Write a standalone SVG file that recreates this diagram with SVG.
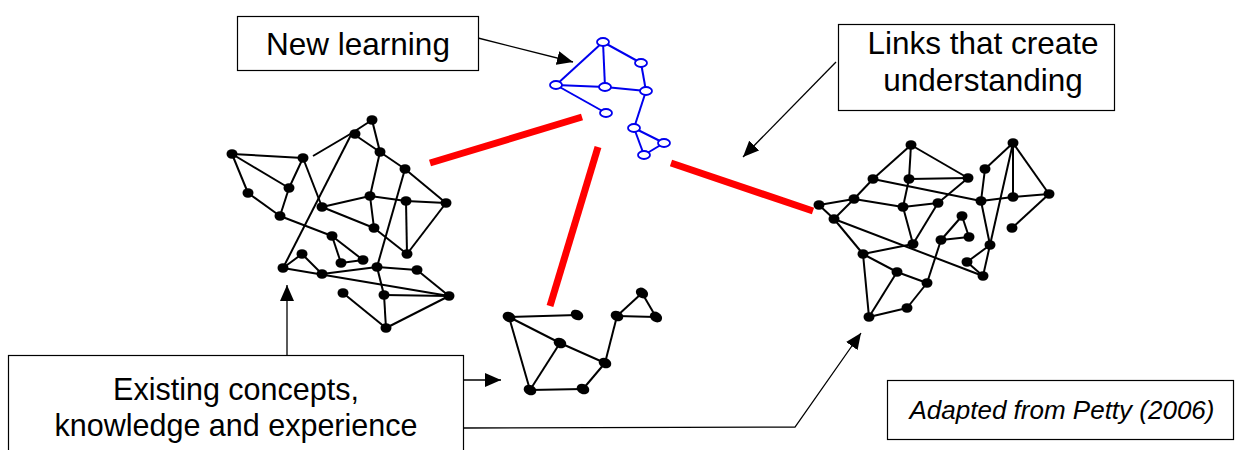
<svg xmlns="http://www.w3.org/2000/svg" width="1240" height="450" viewBox="0 0 1240 450">
<style>
.bx{fill:#fff;stroke:#000;stroke-width:1.2}
.t{font-family:"Liberation Sans",Arial,sans-serif;font-size:31.5px;fill:#000;text-anchor:middle}
.t2{font-family:"Liberation Sans",Arial,sans-serif;font-size:30.5px;fill:#000;text-anchor:middle}
.ti{font-family:"Liberation Sans",Arial,sans-serif;font-size:26px;font-style:italic;fill:#000;text-anchor:middle}
.e{stroke:#000;stroke-width:2;fill:none}
.eb{stroke:#0000ee;stroke-width:2;fill:none}
.n{fill:#000}
.nb{fill:#fff;stroke:#0000ee;stroke-width:1.8}
.red{stroke:#ff0000;stroke-width:7;fill:none}
.ar{stroke:#000;stroke-width:1.3;fill:none;marker-end:url(#ah)}
</style>
<defs>
<marker id="ah" markerUnits="userSpaceOnUse" markerWidth="18" markerHeight="14" refX="16" refY="7" orient="auto">
<path d="M0,0 L16,7 L0,14 Z" fill="#000"/>
</marker>
</defs>
<rect width="1240" height="450" fill="#fff"/>

<g id="connectors">
<line class="ar" x1="478" y1="38" x2="573" y2="62"/>
<line class="ar" x1="836" y1="62" x2="743" y2="157"/>
<line class="ar" x1="287" y1="355" x2="287" y2="285"/>
<line class="ar" x1="455" y1="380" x2="501" y2="380"/>
<polyline class="ar" points="463,428 795,427 861,333"/>
<line class="red" x1="430" y1="163" x2="582" y2="117"/>
<line class="red" x1="598" y1="147" x2="550" y2="306"/>
<line class="red" x1="671" y1="163" x2="813" y2="211"/>
</g>

<g id="left-network">
<g class="e">
<line x1="232" y1="154" x2="303" y2="158"/>
<line x1="232" y1="154" x2="289" y2="188"/>
<line x1="232" y1="154" x2="248" y2="193"/>
<line x1="248" y1="193" x2="280" y2="216"/>
<line x1="289" y1="188" x2="303" y2="158"/>
<line x1="289" y1="188" x2="280" y2="216"/>
<line x1="303" y1="158" x2="322" y2="207"/>
<line x1="313" y1="156" x2="352" y2="133"/>
<line x1="352" y1="133" x2="372" y2="120"/>
<line x1="372" y1="120" x2="380" y2="152"/>
<line x1="352" y1="133" x2="380" y2="152"/>
<line x1="380" y1="152" x2="405" y2="169"/>
<line x1="405" y1="169" x2="446" y2="203"/>
<line x1="352" y1="133" x2="283" y2="268"/>
<line x1="380" y1="152" x2="370" y2="196"/>
<line x1="405" y1="169" x2="377" y2="267"/>
<line x1="370" y1="196" x2="406" y2="201"/>
<line x1="406" y1="201" x2="446" y2="203"/>
<line x1="406" y1="201" x2="407" y2="254"/>
<line x1="446" y1="203" x2="407" y2="254"/>
<line x1="370" y1="196" x2="374" y2="228"/>
<line x1="322" y1="207" x2="370" y2="196"/>
<line x1="322" y1="207" x2="374" y2="228"/>
<line x1="374" y1="228" x2="407" y2="254"/>
<line x1="280" y1="216" x2="332" y2="236"/>
<line x1="332" y1="236" x2="341" y2="263"/>
<line x1="332" y1="236" x2="363" y2="260"/>
<line x1="341" y1="263" x2="363" y2="260"/>
<line x1="283" y1="268" x2="302" y2="254"/>
<line x1="302" y1="254" x2="322" y2="274"/>
<line x1="283" y1="268" x2="449" y2="296"/>
<line x1="322" y1="274" x2="377" y2="267"/>
<line x1="377" y1="267" x2="417" y2="270"/>
<line x1="417" y1="270" x2="449" y2="296"/>
<line x1="377" y1="267" x2="384" y2="295"/>
<line x1="384" y1="295" x2="449" y2="296"/>
<line x1="384" y1="295" x2="386" y2="328"/>
<line x1="386" y1="328" x2="449" y2="296"/>
<line x1="343" y1="293" x2="386" y2="328"/>
</g>
<g class="n">
<ellipse cx="232" cy="154" rx="5.5" ry="4.8"/>
<ellipse cx="303" cy="158" rx="5.5" ry="4.8"/>
<ellipse cx="289" cy="188" rx="5.5" ry="4.8"/>
<ellipse cx="248" cy="193" rx="5.5" ry="4.8"/>
<ellipse cx="280" cy="216" rx="5.5" ry="4.8"/>
<ellipse cx="322" cy="207" rx="5.5" ry="4.8"/>
<ellipse cx="355" cy="134" rx="5.5" ry="4.8"/>
<ellipse cx="372" cy="120" rx="5.5" ry="4.8"/>
<ellipse cx="380" cy="152" rx="5.5" ry="4.8"/>
<ellipse cx="405" cy="169" rx="5.5" ry="4.8"/>
<ellipse cx="370" cy="196" rx="5.5" ry="4.8"/>
<ellipse cx="406" cy="201" rx="5.5" ry="4.8"/>
<ellipse cx="446" cy="203" rx="5.5" ry="4.8"/>
<ellipse cx="374" cy="228" rx="5.5" ry="4.8"/>
<ellipse cx="407" cy="254" rx="5.5" ry="4.8"/>
<ellipse cx="332" cy="236" rx="5.5" ry="4.8"/>
<ellipse cx="341" cy="263" rx="5.5" ry="4.8"/>
<ellipse cx="363" cy="260" rx="5.5" ry="4.8"/>
<ellipse cx="283" cy="268" rx="5.5" ry="4.8"/>
<ellipse cx="302" cy="254" rx="5.5" ry="4.8"/>
<ellipse cx="322" cy="274" rx="5.5" ry="4.8"/>
<ellipse cx="377" cy="267" rx="5.5" ry="4.8"/>
<ellipse cx="417" cy="270" rx="5.5" ry="4.8"/>
<ellipse cx="449" cy="296" rx="5.5" ry="4.8"/>
<ellipse cx="384" cy="295" rx="5.5" ry="4.8"/>
<ellipse cx="386" cy="328" rx="5.5" ry="4.8"/>
<ellipse cx="343" cy="293" rx="5.5" ry="4.8"/>
</g>
</g>

<g id="bottom-network">
<g class="e">
<line x1="509" y1="317" x2="577" y2="315"/>
<line x1="509" y1="317" x2="560" y2="343"/>
<line x1="509" y1="317" x2="530" y2="390"/>
<line x1="560" y1="343" x2="530" y2="390"/>
<line x1="560" y1="343" x2="605" y2="363"/>
<line x1="605" y1="363" x2="617" y2="316"/>
<line x1="605" y1="363" x2="583" y2="389"/>
<line x1="583" y1="389" x2="530" y2="390"/>
<line x1="617" y1="316" x2="642" y2="293"/>
<line x1="617" y1="316" x2="656" y2="317"/>
<line x1="642" y1="293" x2="656" y2="317"/>
</g>
<g class="n">
<ellipse cx="509" cy="317" rx="6.5" ry="5" transform="rotate(20 509 317)"/>
<ellipse cx="577" cy="315" rx="6.5" ry="5" transform="rotate(25 577 315)"/>
<ellipse cx="560" cy="343" rx="6.5" ry="5" transform="rotate(20 560 343)"/>
<ellipse cx="605" cy="363" rx="6.5" ry="5" transform="rotate(20 605 363)"/>
<ellipse cx="617" cy="316" rx="6.5" ry="5" transform="rotate(20 617 316)"/>
<ellipse cx="642" cy="293" rx="6.5" ry="5" transform="rotate(30 642 293)"/>
<ellipse cx="656" cy="317" rx="6.5" ry="5" transform="rotate(30 656 317)"/>
<ellipse cx="530" cy="390" rx="6.5" ry="5" transform="rotate(20 530 390)"/>
<ellipse cx="583" cy="389" rx="6.5" ry="5" transform="rotate(20 583 389)"/>
</g>
</g>

<g id="blue-network">
<g class="eb">
<line x1="603" y1="42" x2="556" y2="85"/>
<line x1="603" y1="42" x2="605" y2="87"/>
<line x1="603" y1="42" x2="641" y2="63"/>
<line x1="641" y1="63" x2="646" y2="91"/>
<line x1="556" y1="85" x2="605" y2="87"/>
<line x1="605" y1="87" x2="646" y2="91"/>
<line x1="556" y1="85" x2="606" y2="113"/>
<line x1="646" y1="91" x2="634" y2="128"/>
<line x1="634" y1="128" x2="664" y2="143"/>
<line x1="634" y1="128" x2="644" y2="155"/>
<line x1="644" y1="155" x2="664" y2="143"/>
</g>
<g class="nb">
<ellipse cx="603" cy="42" rx="6" ry="4"/>
<ellipse cx="641" cy="63" rx="6" ry="4"/>
<ellipse cx="556" cy="85" rx="6" ry="4"/>
<ellipse cx="605" cy="87" rx="6" ry="4"/>
<ellipse cx="646" cy="91" rx="6" ry="4"/>
<ellipse cx="606" cy="113" rx="6" ry="4"/>
<ellipse cx="634" cy="128" rx="6" ry="4"/>
<ellipse cx="664" cy="143" rx="6" ry="4"/>
<ellipse cx="644" cy="155" rx="6" ry="4"/>
</g>
</g>

<g id="right-network">
<g class="e">
<line x1="819" y1="205" x2="834" y2="219"/>
<line x1="819" y1="205" x2="854" y2="199"/>
<line x1="834" y1="219" x2="854" y2="199"/>
<line x1="854" y1="199" x2="873" y2="179"/>
<line x1="873" y1="179" x2="911" y2="145"/>
<line x1="911" y1="145" x2="909" y2="179"/>
<line x1="911" y1="145" x2="968" y2="178"/>
<line x1="909" y1="179" x2="968" y2="178"/>
<line x1="873" y1="179" x2="981" y2="201"/>
<line x1="854" y1="199" x2="903" y2="207"/>
<line x1="903" y1="207" x2="938" y2="203"/>
<line x1="909" y1="179" x2="903" y2="207"/>
<line x1="903" y1="207" x2="913" y2="244"/>
<line x1="938" y1="203" x2="968" y2="178"/>
<line x1="938" y1="203" x2="913" y2="244"/>
<line x1="834" y1="219" x2="983" y2="276"/>
<line x1="834" y1="219" x2="863" y2="254"/>
<line x1="863" y1="254" x2="913" y2="244"/>
<line x1="863" y1="254" x2="869" y2="317"/>
<line x1="863" y1="254" x2="897" y2="272"/>
<line x1="897" y1="272" x2="927" y2="283"/>
<line x1="897" y1="272" x2="869" y2="317"/>
<line x1="927" y1="283" x2="941" y2="240"/>
<line x1="927" y1="283" x2="907" y2="308"/>
<line x1="907" y1="308" x2="869" y2="317"/>
<line x1="941" y1="240" x2="962" y2="216"/>
<line x1="941" y1="240" x2="969" y2="237"/>
<line x1="962" y1="216" x2="969" y2="237"/>
<line x1="985" y1="169" x2="1013" y2="143"/>
<line x1="985" y1="169" x2="981" y2="201"/>
<line x1="981" y1="201" x2="1013" y2="197"/>
<line x1="1013" y1="143" x2="1013" y2="197"/>
<line x1="1013" y1="143" x2="1049" y2="194"/>
<line x1="1013" y1="197" x2="1049" y2="194"/>
<line x1="1013" y1="143" x2="990" y2="245"/>
<line x1="981" y1="201" x2="990" y2="245"/>
<line x1="1049" y1="194" x2="1012" y2="228"/>
<line x1="990" y1="245" x2="967" y2="262"/>
<line x1="967" y1="262" x2="983" y2="276"/>
<line x1="990" y1="245" x2="983" y2="276"/>
</g>
<g class="n">
<ellipse cx="819" cy="205" rx="5.5" ry="4.8"/>
<ellipse cx="834" cy="219" rx="5.5" ry="4.8"/>
<ellipse cx="854" cy="199" rx="5.5" ry="4.8"/>
<ellipse cx="873" cy="179" rx="5.5" ry="4.8"/>
<ellipse cx="911" cy="145" rx="5.5" ry="4.8"/>
<ellipse cx="909" cy="179" rx="5.5" ry="4.8"/>
<ellipse cx="903" cy="207" rx="5.5" ry="4.8"/>
<ellipse cx="938" cy="203" rx="5.5" ry="4.8"/>
<ellipse cx="968" cy="178" rx="5.5" ry="4.8"/>
<ellipse cx="985" cy="169" rx="5.5" ry="4.8"/>
<ellipse cx="981" cy="201" rx="5.5" ry="4.8"/>
<ellipse cx="1013" cy="143" rx="5.5" ry="4.8"/>
<ellipse cx="1013" cy="197" rx="5.5" ry="4.8"/>
<ellipse cx="1049" cy="194" rx="5.5" ry="4.8"/>
<ellipse cx="1012" cy="228" rx="5.5" ry="4.8"/>
<ellipse cx="962" cy="216" rx="5.5" ry="4.8"/>
<ellipse cx="969" cy="237" rx="5.5" ry="4.8"/>
<ellipse cx="941" cy="240" rx="5.5" ry="4.8"/>
<ellipse cx="990" cy="245" rx="5.5" ry="4.8"/>
<ellipse cx="967" cy="262" rx="5.5" ry="4.8"/>
<ellipse cx="983" cy="276" rx="5.5" ry="4.8"/>
<ellipse cx="913" cy="244" rx="5.5" ry="4.8"/>
<ellipse cx="863" cy="254" rx="5.5" ry="4.8"/>
<ellipse cx="897" cy="272" rx="5.5" ry="4.8"/>
<ellipse cx="927" cy="283" rx="5.5" ry="4.8"/>
<ellipse cx="907" cy="308" rx="5.5" ry="4.8"/>
<ellipse cx="869" cy="317" rx="5.5" ry="4.8"/>
</g>
</g>

<g id="box-new-learning">
<rect class="bx" x="237.5" y="16.5" width="241" height="54"/>
<text class="t" x="358" y="55">New learning</text>
</g>
<g id="box-links">
<rect class="bx" x="838.5" y="24.5" width="276" height="86"/>
<text class="t" x="983" y="54">Links that create</text>
<text class="t" x="983" y="91">understanding</text>
</g>
<g id="box-existing">
<rect class="bx" x="8.5" y="355.5" width="455" height="110"/>
<text class="t2" x="236" y="400">Existing concepts,</text>
<text class="t2" x="236" y="436">knowledge and experience</text>
</g>
<g id="box-source">
<rect class="bx" x="887.5" y="380.5" width="346" height="59"/>
<text class="ti" x="1062" y="419">Adapted from Petty (2006)</text>
</g>
</svg>
